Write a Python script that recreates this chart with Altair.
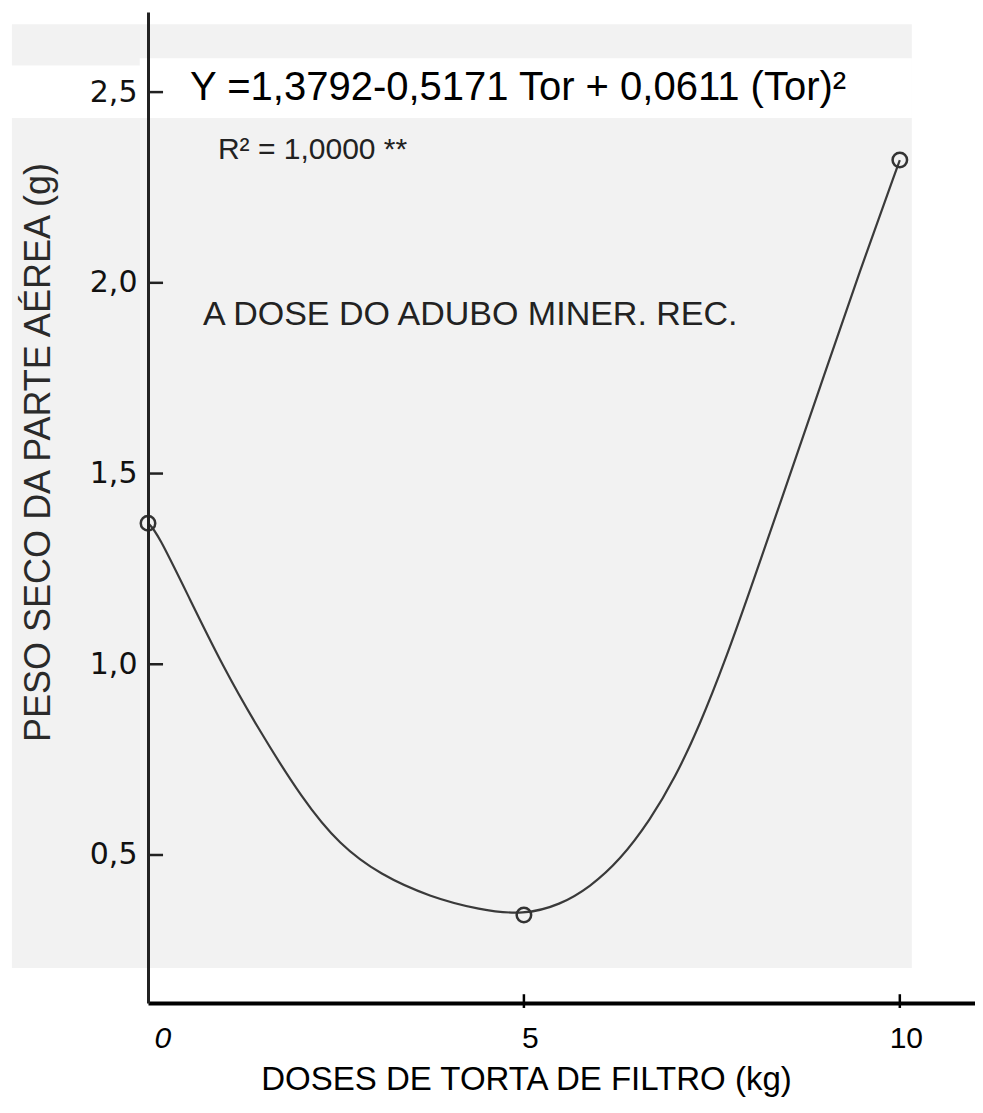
import altair as alt
import pandas as pd

# ---- data ----
point_dose = [0, 5, 10]
point_weight = [1.37, 0.343, 2.322]

curve_dose = [0, 0.12, 0.56, 1.00, 1.45, 2.06, 2.55, 3.09, 3.75, 4.41, 5.00,
              5.48, 5.88, 6.28, 6.68, 7.01, 7.34, 7.68, 8.01, 8.41, 8.94, 9.47, 10.0]
curve_weight = [1.370, 1.347, 1.169, 0.993, 0.836, 0.644, 0.526, 0.448, 0.390, 0.356, 0.343,
                0.369, 0.416, 0.487, 0.592, 0.702, 0.841, 1.011, 1.195, 1.423, 1.727, 2.033, 2.322]

y_tick_values = [0.5, 1.0, 1.5, 2.0, 2.5]
x_tick_values = [0, 5, 10]

equation_text = ["Y =1,3792-0,5171 Tor + 0,0611 (Tor)²"]
r2_text = ["R² = 1,0000 **"]
label_text = ["A DOSE DO ADUBO MINER. REC."]

# ---- layout (data units) ----
X_DOMAIN = [0, 11.0]
Y_DOMAIN = [0.112, 2.71]
W, H = 827, 991

x_scale = alt.Scale(domain=X_DOMAIN, nice=False, zero=False)
y_scale = alt.Scale(domain=Y_DOMAIN, nice=False, zero=False)

x_axis = alt.Axis(
    values=x_tick_values, format="d", grid=False, zindex=2,
    domainColor="#000", domainWidth=4, ticks=False,
    labelFont="Liberation Sans", labelFontSize=30, labelColor="#000",
    labelPadding=20, labelOffset=6,
    labelAlign={"condition": {"test": "datum.value == 0", "value": "left"}, "value": "center"},
    labelFontStyle={"condition": {"test": "datum.value == 0", "value": "italic"}, "value": "normal"},
    title="DOSES DE TORTA DE FILTRO (kg)", titleFont="Liberation Sans", titleFontSize=33,
    titleFontWeight="normal", titleColor="#000", titleX=378, titleY=76,
    titleAlign="center", titleBaseline="middle",
)
y_axis = alt.Axis(
    values=y_tick_values, format=".1f", labelExpr="replace(datum.label, '.', ',')",
    grid=False, zindex=2, ticks=False,
    domainColor="#222", domainWidth=3,
    labelFont="DejaVu Sans", labelFontSize=30, labelColor="#111", labelPadding=11,
    title="PESO SECO DA PARTE AÉREA (g)", titleFont="Liberation Sans", titleFontSize=36,
    titleFontWeight="normal", titleColor="#2a2a2a", titleX=-110, titleY=440,
    titleAngle=270, titleAlign="center", titleBaseline="middle",
)


def X(field):
    return alt.X(field, type="quantitative", scale=x_scale, axis=x_axis)


def Y(field):
    return alt.Y(field, type="quantitative", scale=y_scale, axis=y_axis)


# scanned-page background and pasted white strips
bg = pd.DataFrame({"x": [-1.81], "x2": [10.16], "y": [0.204], "y2": [2.678]})
white = pd.DataFrame({"x": [-0.11, -1.84], "x2": [10.16, 0.0],
                      "y": [2.432, 2.432], "y2": [2.589, 2.57]})

bg_layer = alt.Chart(bg).mark_rect(color="#f2f2f2").encode(
    x=X("x"), x2="x2", y=Y("y"), y2="y2")
white_layer = alt.Chart(white).mark_rect(color="#ffffff").encode(
    x=X("x"), x2="x2", y=Y("y"), y2="y2")

curve_df = pd.DataFrame({"dose": curve_dose, "peso": curve_weight})
curve_layer = alt.Chart(curve_df).mark_line(
    color="#3a3a3a", strokeWidth=2.2, interpolate="basis").encode(
    x=X("dose"), y=Y("peso"), order="dose:Q")

pts_df = pd.DataFrame({"dose": point_dose, "peso": point_weight})
pts_layer = alt.Chart(pts_df).mark_point(
    shape="circle", filled=False, size=210, color="#333", strokeWidth=2.5, opacity=1).encode(
    x=X("dose"), y=Y("peso"))

ytick_df = pd.DataFrame({"x": [0.0] * len(y_tick_values), "x2": [0.2] * len(y_tick_values),
                         "y": y_tick_values})
ytick_layer = alt.Chart(ytick_df).mark_rule(color="#222", strokeWidth=2.5).encode(
    x=X("x"), x2="x2", y=Y("y"))

xt = [v for v in x_tick_values if v > 0]
xtick_df = pd.DataFrame({"x": xt, "y": [0.099] * len(xt), "y2": [0.135] * len(xt)})
xtick_layer = alt.Chart(xtick_df).mark_rule(color="#000", strokeWidth=2.5).encode(
    x=X("x"), y=Y("y"), y2="y2")

eq_df = pd.DataFrame({"x": [0.56], "y": [2.51], "t": equation_text})
eq_layer = alt.Chart(eq_df).mark_text(
    align="left", baseline="middle", font="Liberation Sans", fontSize=40, color="#000").encode(
    x=X("x"), y=Y("y"), text="t:N")

r2_df = pd.DataFrame({"x": [0.93], "y": [2.348], "t": r2_text})
r2_layer = alt.Chart(r2_df).mark_text(
    align="left", baseline="middle", font="Liberation Sans", fontSize=30, color="#222").encode(
    x=X("x"), y=Y("y"), text="t:N")

lab_df = pd.DataFrame({"x": [0.73], "y": [1.915], "t": label_text})
lab_layer = alt.Chart(lab_df).mark_text(
    align="left", baseline="middle", font="Liberation Sans", fontSize=34, color="#222").encode(
    x=X("x"), y=Y("y"), text="t:N")

chart = alt.layer(
    bg_layer, white_layer, curve_layer, pts_layer, ytick_layer, xtick_layer,
    eq_layer, r2_layer, lab_layer,
).properties(
    width=W, height=H,
    autosize=alt.AutoSizeParams(type="none"),
    padding={"left": 140, "top": 4, "right": 0, "bottom": 96},
    background="#ffffff",
).configure_view(stroke=None)

chart.save("out.html", embed_options={"renderer": "svg", "actions": False})
